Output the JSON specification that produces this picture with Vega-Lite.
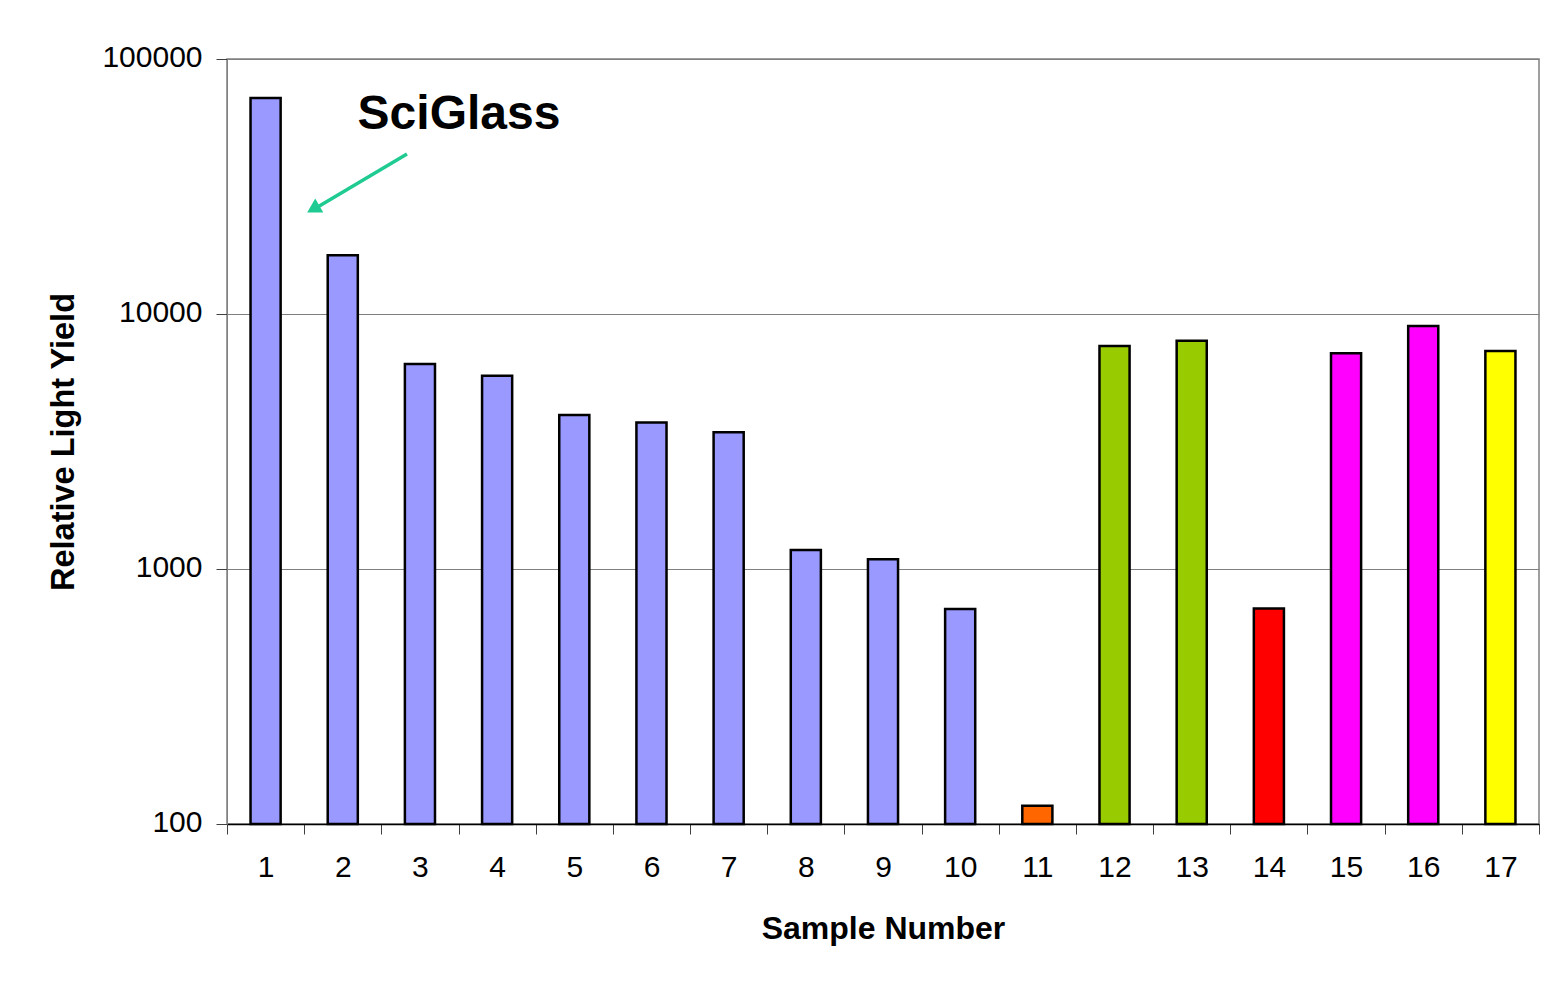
{
  "$schema": "https://vega.github.io/schema/vega-lite/v6.json",
  "width": 1312,
  "height": 765,
  "autosize": {"type": "none"},
  "padding": {"left": 227, "top": 59, "right": 4, "bottom": 157},
  "background": "white",
  "config": {
    "font": "Liberation Sans",
    "view": {"stroke": "#808080", "strokeWidth": 1.5}
  },
  "datasets": {
    "bars": [
      {"sample": "1", "yield": 70300, "group": "A"},
      {"sample": "2", "yield": 17000, "group": "A"},
      {"sample": "3", "yield": 6370, "group": "A"},
      {"sample": "4", "yield": 5730, "group": "A"},
      {"sample": "5", "yield": 4020, "group": "A"},
      {"sample": "6", "yield": 3750, "group": "A"},
      {"sample": "7", "yield": 3440, "group": "A"},
      {"sample": "8", "yield": 1188, "group": "A"},
      {"sample": "9", "yield": 1093, "group": "A"},
      {"sample": "10", "yield": 697, "group": "A"},
      {"sample": "11", "yield": 118, "group": "B"},
      {"sample": "12", "yield": 7490, "group": "C"},
      {"sample": "13", "yield": 7860, "group": "C"},
      {"sample": "14", "yield": 700, "group": "D"},
      {"sample": "15", "yield": 7010, "group": "E"},
      {"sample": "16", "yield": 8980, "group": "E"},
      {"sample": "17", "yield": 7160, "group": "F"}
    ],
    "arrowLine": [
      {"pos": 2.832, "val": 42400, "pos2": 1.62, "val2": 25700}
    ],
    "arrowHead": [
      {"pos": 1.617, "val": 25800}
    ],
    "label": [
      {"pos": 3.506, "val": 53170, "text": "SciGlass"}
    ]
  },
  "layer": [
    {
      "data": {"name": "bars"},
      "mark": {"type": "bar", "stroke": "black", "strokeWidth": 2.5, "width": {"band": 0.39}},
      "encoding": {
        "x": {
          "field": "sample",
          "type": "ordinal",
          "sort": null,
          "scale": {"paddingInner": 0, "paddingOuter": 0},
          "axis": {
            "title": "Sample Number",
            "labelAngle": 0,
            "labelFontSize": 30,
            "labelColor": "black",
            "labelPadding": 18,
            "tickBand": "extent",
            "tickSize": 10,
            "tickColor": "#404040",
            "domainColor": "black",
            "domainWidth": 1.5,
            "titleFontSize": 32,
            "titleFontWeight": "bold",
            "titleColor": "black",
            "titlePadding": 31
          }
        },
        "y": {
          "field": "yield",
          "type": "quantitative",
          "scale": {"type": "log", "domain": [100, 100000], "nice": false},
          "axis": {
            "title": "Relative Light Yield",
            "values": [100, 1000, 10000, 100000],
            "format": "d",
            "labelFontSize": 30,
            "labelColor": "black",
            "labelPadding": 14,
            "labelOffset": -2,
            "tickSize": 11,
            "tickColor": "#404040",
            "domainColor": "#808080",
            "grid": true,
            "gridColor": "#808080",
            "gridWidth": 1,
            "titleFontSize": 32.5,
            "titleFontWeight": "bold",
            "titleColor": "black",
            "titlePadding": 21
          }
        },
        "y2": {"datum": 100},
        "color": {
          "field": "group",
          "type": "nominal",
          "scale": {
            "domain": ["A", "B", "C", "D", "E", "F"],
            "range": ["#9999FF", "#FF6600", "#99CC00", "#FF0000", "#FF00FF", "#FFFF00"]
          },
          "legend": null
        }
      }
    },
    {
      "data": {"name": "arrowLine"},
      "mark": {"type": "rule", "color": "#1FCB92", "strokeWidth": 3.5},
      "encoding": {
        "x": {"field": "pos", "type": "quantitative", "scale": {"domain": [0.5, 17.5], "nice": false, "zero": false}, "axis": null},
        "x2": {"field": "pos2"},
        "y": {"field": "val", "type": "quantitative"},
        "y2": {"field": "val2"}
      }
    },
    {
      "data": {"name": "arrowHead"},
      "mark": {"type": "point", "shape": "triangle-up", "filled": true, "color": "#1FCB92", "size": 260, "angle": 240, "opacity": 1},
      "encoding": {
        "x": {"field": "pos", "type": "quantitative", "scale": {"domain": [0.5, 17.5], "nice": false, "zero": false}, "axis": null},
        "y": {"field": "val", "type": "quantitative"}
      }
    },
    {
      "data": {"name": "label"},
      "mark": {"type": "text", "fontSize": 48, "fontWeight": "bold", "color": "black", "align": "center", "baseline": "alphabetic", "font": "Liberation Sans"},
      "encoding": {
        "x": {"field": "pos", "type": "quantitative", "scale": {"domain": [0.5, 17.5], "nice": false, "zero": false}, "axis": null},
        "y": {"field": "val", "type": "quantitative"},
        "text": {"field": "text"}
      }
    }
  ],
  "resolve": {"scale": {"x": "independent"}, "axis": {"x": "independent"}}
}
